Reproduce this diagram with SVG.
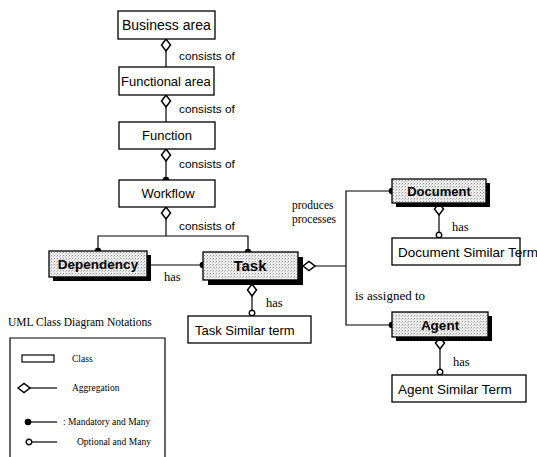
<svg xmlns="http://www.w3.org/2000/svg" width="537" height="457" viewBox="0 0 537 457">
  <defs>
    <style>
      .box { fill: #ffffff; stroke: #000; stroke-width: 1.3; }
      .shaded { fill: url(#stipple); stroke: #000; stroke-width: 1.3; }
      .shadow { fill: #000; }
      .lbl { font-family: "Liberation Sans", Arial, sans-serif; font-size: 13px; fill: #000; }
      .bold { font-family: "Liberation Sans", Arial, sans-serif; font-size: 13.5px; font-weight: bold; fill: #000; }
      .rel { font-family: "Liberation Sans", Arial, sans-serif; font-size: 11.8px; fill: #000; }
      .serif { font-family: "Liberation Serif", "Times New Roman", serif; font-size: 12.5px; fill: #000; }
      .legend { font-family: "Liberation Serif", "Times New Roman", serif; font-size: 9.5px; fill: #000; }
      .wire { fill: none; stroke: #000; stroke-width: 1.2; }
      .agg { fill: #fff; stroke: #000; stroke-width: 1.5; }
      .dot { fill: #000; }
      .opt { fill: #fff; stroke: #000; stroke-width: 1.4; }
    </style>
    <pattern id="stipple" width="3" height="3" patternUnits="userSpaceOnUse">
      <rect width="3" height="3" fill="#ececec"/>
      <rect x="0" y="0" width="1" height="1" fill="#9a9a9a"/>
      <rect x="2" y="1" width="1" height="1" fill="#c4c4c4"/>
    </pattern>
    <path id="diamondV" d="M0,-6 L4.5,0 L0,6 L-4.5,0 Z" class="agg"/>
    <path id="diamondH" d="M-6,0 L0,-4.5 L6,0 L0,4.5 Z" class="agg"/>
    <circle id="mandatory" r="3.3" class="dot"/>
    <circle id="optional" r="2.8" class="opt"/>
  </defs>

  <rect width="537" height="457" fill="#fff"/>

  <!-- connectors -->
  <g id="connectors">
    <!-- Business area - Functional area -->
    <line class="wire" x1="166" y1="51" x2="166" y2="67"/>
    <use href="#diamondV" x="166" y="45"/>
    <text class="rel" x="179" y="60">consists of</text>

    <!-- Functional area - Function -->
    <line class="wire" x1="166" y1="107" x2="166" y2="122"/>
    <use href="#diamondV" x="166" y="101"/>
    <text class="rel" x="179" y="113">consists of</text>

    <!-- Function - Workflow -->
    <line class="wire" x1="166" y1="161" x2="166" y2="180"/>
    <use href="#diamondV" x="166" y="155"/>
    <use href="#mandatory" x="166" y="180"/>
    <text class="rel" x="179" y="168">consists of</text>

    <!-- Workflow - Dependency / Task -->
    <path class="wire" d="M166,219 V236 M98,251 V236 H248 V252"/>
    <use href="#diamondV" x="166" y="213"/>
    <use href="#mandatory" x="98" y="251"/>
    <use href="#mandatory" x="248" y="252"/>
    <text class="rel" x="179" y="230">consists of</text>

    <!-- Dependency - Task -->
    <line class="wire" x1="147" y1="265" x2="203" y2="265"/>
    <use href="#mandatory" x="203" y="265"/>
    <text class="serif" x="164" y="281">has</text>

    <!-- Task - Task Similar term -->
    <line class="wire" x1="252" y1="296" x2="252" y2="313"/>
    <use href="#diamondV" x="252" y="290"/>
    <use href="#optional" x="252" y="313"/>
    <text class="serif" x="266" y="307">has</text>

    <!-- Task - Document / Agent -->
    <path class="wire" d="M315,266 H346 M392,191 H346 V325 H392"/>
    <use href="#diamondH" x="309" y="266"/>
    <use href="#mandatory" x="392" y="191"/>
    <use href="#mandatory" x="392" y="325"/>
    <text class="serif" x="292" y="209" style="font-size:11.5px">produces</text>
    <text class="serif" x="292" y="223" style="font-size:11.5px">processes</text>
    <text class="serif" x="355" y="300" style="font-size:13px">is assigned to</text>

    <!-- Document - Document Similar Term -->
    <line class="wire" x1="439" y1="215" x2="439" y2="234"/>
    <use href="#diamondV" x="439" y="209"/>
    <use href="#optional" x="439" y="235"/>
    <text class="serif" x="452" y="231">has</text>

    <!-- Agent - Agent Similar Term -->
    <line class="wire" x1="440" y1="349" x2="440" y2="371"/>
    <use href="#diamondV" x="440" y="343"/>
    <use href="#optional" x="440" y="372"/>
    <text class="serif" x="453" y="366">has</text>
  </g>

  <!-- plain classes -->
  <g id="business-area">
    <rect class="box" x="118" y="11" width="97" height="28"/>
    <text class="lbl" x="122" y="30" style="font-size:14px">Business area</text>
  </g>
  <g id="functional-area">
    <rect class="box" x="119" y="67" width="95" height="28"/>
    <text class="lbl" x="121" y="86">Functional area</text>
  </g>
  <g id="function">
    <rect class="box" x="119" y="122" width="96" height="27"/>
    <text class="lbl" x="167" y="140" text-anchor="middle">Function</text>
  </g>
  <g id="workflow">
    <rect class="box" x="119" y="180" width="96" height="27"/>
    <text class="lbl" x="168" y="198" text-anchor="middle">Workflow</text>
  </g>

  <!-- shaded classes -->
  <g id="dependency">
    <rect class="shadow" x="53" y="255" width="98" height="26"/>
    <rect class="shaded" x="49" y="251" width="98" height="26"/>
    <text class="bold" x="98" y="269" text-anchor="middle">Dependency</text>
  </g>
  <g id="task">
    <rect class="shadow" x="208" y="257" width="95" height="28"/>
    <rect class="shaded" x="203" y="252" width="95" height="28"/>
    <text class="bold" x="250" y="271" text-anchor="middle" style="font-size:15px">Task</text>
  </g>
  <g id="document">
    <rect class="shadow" x="396" y="183" width="94" height="24"/>
    <rect class="shaded" x="392" y="179" width="94" height="24"/>
    <text class="bold" x="439" y="196" text-anchor="middle" style="font-size:13px">Document</text>
  </g>
  <g id="agent">
    <rect class="shadow" x="396" y="316" width="96" height="25"/>
    <rect class="shaded" x="392" y="312" width="96" height="25"/>
    <text class="bold" x="440" y="330" text-anchor="middle">Agent</text>
  </g>

  <!-- similar-term classes -->
  <g id="task-similar-term">
    <rect class="box" x="188" y="316" width="123" height="27"/>
    <text class="lbl" x="195" y="335">Task Similar term</text>
  </g>
  <g id="document-similar-term">
    <rect class="box" x="392" y="238" width="128" height="27"/>
    <text class="lbl" x="398" y="257" style="font-size:13.5px">Document Similar Term</text>
  </g>
  <g id="agent-similar-term">
    <rect class="box" x="392" y="375" width="134" height="27"/>
    <text class="lbl" x="398" y="394" style="font-size:13.5px">Agent Similar Term</text>
  </g>

  <!-- notation key -->
  <g id="legend">
    <text class="legend" x="8" y="326" style="font-size:11.5px">UML Class Diagram Notations</text>
    <path class="wire" d="M10,457 V338 H165 V457"/>
    <rect x="22" y="355" width="32" height="7" fill="#fff" stroke="#000" stroke-width="1.2"/>
    <text class="legend" x="72" y="362">Class</text>
    <line class="wire" x1="29" y1="388" x2="57" y2="388"/>
    <use href="#diamondH" x="24" y="388"/>
    <text class="legend" x="72" y="391">Aggregation</text>
    <line class="wire" x1="28" y1="422" x2="57" y2="422"/>
    <use href="#mandatory" x="28" y="422"/>
    <text class="legend" x="63" y="425">: Mandatory and Many</text>
    <line class="wire" x1="32" y1="442" x2="57" y2="442"/>
    <use href="#optional" x="29" y="442"/>
    <text class="legend" x="77" y="445">Optional and Many</text>
  </g>
</svg>
